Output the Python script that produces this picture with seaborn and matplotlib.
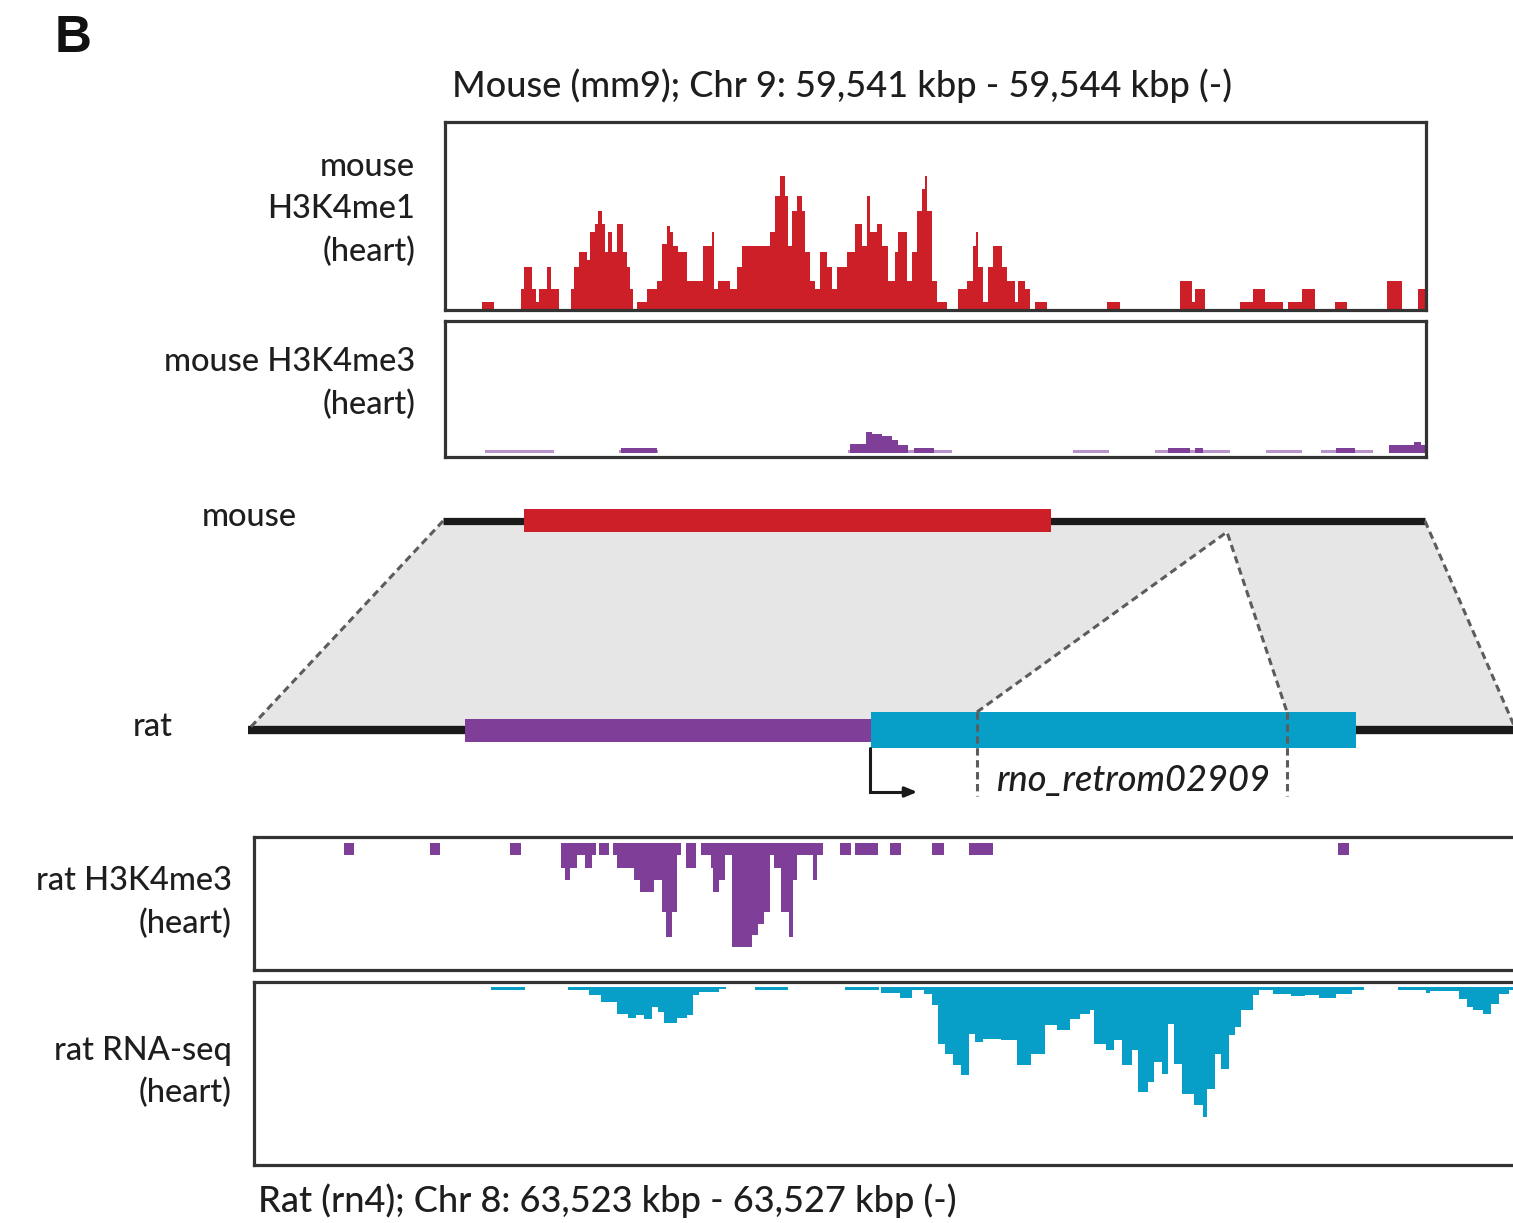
import numpy as np
import pandas as pd
import matplotlib
matplotlib.use("Agg")
import matplotlib.pyplot as plt
from matplotlib.patches import Polygon, Rectangle
import seaborn as sns

# ---------------- data (x in layout track units, heights in signal units) ----------------
# mouse H3K4me1 (heart): step breakpoints and heights
me1_edges = [482, 494, 521, 524, 532, 536, 539, 547, 551, 559, 571, 574, 579, 587, 590, 595, 598, 602, 605, 608,
             612, 617, 623, 627, 630, 633, 637, 647, 657, 662, 667, 670, 673, 678, 687, 703, 712, 714, 718, 730,
             737, 742, 770, 775, 780, 785, 788, 792, 797, 802, 805, 810, 815, 820, 827, 832, 837, 847, 855, 862,
             867, 870, 877, 882, 888, 895, 898, 907, 912, 917, 922, 925, 927, 932, 937, 947, 958, 967, 973, 976,
             978, 983, 988, 993, 1002, 1007, 1015, 1018, 1025, 1030, 1035, 1047, 1107, 1120, 1180, 1192, 1195,
             1205, 1240, 1253, 1265, 1283, 1288, 1302, 1315, 1335, 1347, 1387, 1402, 1418, 1427]
me1_vals = [8, 0, 21, 43, 21, 8, 21, 43, 21, 0,
            21, 43, 58, 50, 78, 86, 99, 86, 58, 78,
            58, 86, 58, 43, 21, 0, 8, 21, 29, 66,
            84, 78, 64, 58, 29, 64, 78, 21, 29, 21,
            43, 64, 78, 114, 134, 114, 64, 99, 114, 99,
            58, 29, 21, 58, 43, 21, 43, 58, 86, 64,
            114, 78, 86, 64, 29, 58, 78, 29, 58, 99,
            121, 134, 99, 29, 8, 0, 21, 29, 64, 78,
            43, 8, 43, 64, 43, 29, 8, 29, 21, 0,
            8, 0, 8, 0, 29, 8, 21, 0, 8, 21,
            8, 0, 8, 21, 0, 8, 0, 29, 0, 21]

# mouse H3K4me3 (heart): low-level (light) and signal (dark)
me3m_low_edges = [485, 554, 619, 658, 848, 952, 1073, 1109, 1155, 1230, 1266, 1302, 1321, 1373, 1389, 1430]
me3m_low_vals = [3.5, 0, 3.5, 0, 3.5, 0, 3.5, 0, 3.5, 0, 3.5, 0, 3.5, 0, 3.5]
me3m_edges = [621, 657, 850, 866, 872, 882, 892, 898, 908, 914, 934, 1168, 1190, 1195, 1203, 1336, 1355,
              1389, 1414, 1421, 1430]
me3m_vals = [5, 0, 9, 21, 19, 17, 13, 8, 0, 5, 0, 5, 0, 5, 0, 5, 0, 8, 11, 8]

# rat H3K4me3 (heart)
me3r_edges = [344, 354, 430, 440, 510, 521, 561, 565, 570, 577, 585, 592, 596, 599, 609, 613, 617, 634, 640, 654,
              662, 666, 672, 677, 681, 686, 696, 701, 711, 713, 719, 725, 732, 752, 758, 764, 770, 774, 781, 789,
              793, 797, 813, 817, 823, 840, 851, 855, 878, 890, 901, 932, 944, 969, 993, 1338, 1349]
me3r_vals = [12, 0, 12, 0, 12, 0, 25, 37, 25, 12,
             25, 12, 0, 12, 0, 12, 25, 37, 49, 37,
             69, 94, 69, 12, 0, 25, 0, 12, 25, 49,
             37, 12, 104, 92, 81, 69, 12, 25, 69, 94,
             37, 12, 37, 12, 0, 12, 0, 12, 0, 12,
             0, 12, 0, 12, 0, 12]

# rat RNA-seq (heart)
rna_edges = [491, 525, 568, 589, 601, 617, 628, 636, 644, 652, 658, 664, 677, 687, 693, 699, 719, 726, 755, 788,
             845, 879, 881, 900, 912, 924, 932, 938, 945, 953, 961, 969, 975, 983, 1001, 1017, 1031, 1045, 1057,
             1070, 1080, 1090, 1094, 1106, 1114, 1122, 1132, 1138, 1148, 1154, 1162, 1168, 1174, 1182, 1194, 1203,
             1207, 1215, 1221, 1229, 1235, 1241, 1253, 1259, 1273, 1291, 1305, 1319, 1336, 1352, 1364, 1398, 1426,
             1430, 1459, 1467, 1473, 1483, 1491, 1499, 1509, 1520]
rna_vals = [3, 0, 3, 8, 15, 27, 31, 28, 32, 20,
            25, 36, 31, 28, 8, 5, 2, 0, 3, 0,
            3, 0, 6, 11, 3, 7, 18, 57, 67, 78,
            88, 47, 55, 52, 53, 78, 67, 38, 43, 32,
            27, 23, 57, 63, 53, 78, 63, 105, 95, 75,
            87, 37, 77, 107, 118, 130, 102, 67, 82, 48,
            40, 23, 8, 3, 7, 9, 8, 11, 7, 3,
            0, 3, 6, 4, 12, 20, 23, 27, 17, 7,
            3]

# synteny diagram (layout units)
mouse_locus = [443, 1425]
mouse_enhancer = [524, 1051]
rat_locus = [248, 1516]
rat_upstream = [465, 871]
rat_retro = [871, 1356]
insertion_mouse = 1227
insertion_rat = [977, 1287]
tss_rat = 870

title_top = "Mouse (mm9); Chr 9: 59,541 kbp - 59,544 kbp (-)"
title_bottom = "Rat (rn4); Chr 8: 63,523 kbp - 63,527 kbp (-)"
retro_name = "rno_retrom02909"

# ---------------- styling ----------------
W, H = 1513, 1223
RED = "#cc1f27"
PURPLE = "#7f3f98"
PURPLE_LIGHT = "#b993cb"
CYAN = "#079fc8"
GRAY = "#e6e6e6"
DASH = "#5c5c5c"
FRAME = "#333333"
TXT = "#1e1e1e"

sns.set_theme(style="white")
plt.rcParams["font.family"] = ["Lato", "DejaVu Sans"]

fig = plt.figure(figsize=(W / 100, H / 100), dpi=100)
fig.patch.set_facecolor("white")

# overlay axes in layout units (for diagram and labels)
ov = fig.add_axes([0, 0, 1, 1], zorder=0)
ov.set_xlim(0, W)
ov.set_ylim(H, 0)
ov.axis("off")
ov.patch.set_visible(False)


def px_axes(x0, y0, x1, y1):
    ax = fig.add_axes([x0 / W, 1 - y1 / H, (x1 - x0) / W, (y1 - y0) / H], zorder=2)
    return ax


def draw_track(ax, edges, vals, color):
    edges = [float(e) for e in edges]
    vals = [float(v) for v in vals]
    mids = [(a + b) / 2 for a, b in zip(edges[:-1], edges[1:])]
    df = pd.DataFrame({"pos": mids, "signal": vals})
    sns.histplot(data=df, x="pos", weights="signal", bins=edges, element="step", fill=True,
                 color=color, alpha=1, linewidth=0, ax=ax)


def style_frame(ax, xlim, ylim):
    ax.set_xlim(*xlim)
    ax.set_ylim(*ylim)
    ax.set_xticks([])
    ax.set_yticks([])
    ax.set_xlabel("")
    ax.set_ylabel("")
    for s in ax.spines.values():
        s.set_visible(True)
        s.set_color(FRAME)
        s.set_linewidth(2.3)


# mouse H3K4me1
ax1 = px_axes(445, 122, 1426, 310)
draw_track(ax1, me1_edges, me1_vals, RED)
style_frame(ax1, (445, 1426), (0, 188))

# mouse H3K4me3
ax2 = px_axes(445, 321, 1426, 457)
draw_track(ax2, me3m_low_edges, me3m_low_vals, PURPLE_LIGHT)
draw_track(ax2, me3m_edges, me3m_vals, PURPLE)
style_frame(ax2, (445, 1426), (-4, 132))

# rat H3K4me3 (hanging from the top)
ax3 = px_axes(254, 837, 1522, 970)
draw_track(ax3, me3r_edges, me3r_vals, PURPLE)
style_frame(ax3, (254, 1522), (127, -6))

# rat RNA-seq (hanging from the top)
ax4 = px_axes(254, 982, 1522, 1165)
draw_track(ax4, rna_edges, rna_vals, CYAN)
style_frame(ax4, (254, 1522), (178, -5))

# ---------------- synteny diagram ----------------
my, ry = 521, 730
dash_kw = dict(color=DASH, lw=2.2, linestyle=(0, (2.4, 1.5)), zorder=6, solid_capstyle="butt")

ov.add_patch(Polygon([(mouse_locus[0], my), (mouse_locus[1], my), (rat_locus[1], ry), (rat_locus[0], ry)],
                     closed=True, facecolor=GRAY, edgecolor="none", zorder=1))
ov.add_patch(Polygon([(insertion_mouse, my + 11), (insertion_rat[0], 712), (insertion_rat[1], 712)],
                     closed=True, facecolor="white", edgecolor="none", zorder=2))

ov.plot(mouse_locus, [my, my], color="#1a1a1a", lw=5.2, solid_capstyle="butt", zorder=3)
ov.plot(rat_locus, [ry, ry], color="#1a1a1a", lw=6, solid_capstyle="butt", zorder=3)
ov.add_patch(Rectangle((mouse_enhancer[0], my - 12), mouse_enhancer[1] - mouse_enhancer[0], 23,
                       facecolor=RED, edgecolor="none", zorder=4))
ov.add_patch(Rectangle((rat_upstream[0], ry - 11), rat_upstream[1] - rat_upstream[0], 23,
                       facecolor=PURPLE, edgecolor="none", zorder=4))
ov.add_patch(Rectangle((rat_retro[0], ry - 18), rat_retro[1] - rat_retro[0], 36,
                       facecolor=CYAN, edgecolor="none", zorder=4))

ov.plot([mouse_locus[0], rat_locus[0]], [my, ry], **dash_kw)
ov.plot([mouse_locus[1], rat_locus[1]], [my, ry], **dash_kw)
ov.plot([insertion_rat[0], insertion_mouse, insertion_rat[1]], [712, my + 11, 712], **dash_kw)
for xv in insertion_rat:
    ov.plot([xv, xv], [712, 796], **dash_kw)

# TSS arrow
ov.plot([tss_rat, tss_rat, tss_rat + 36], [ry + 18, 792, 792], color="#1a1a1a", lw=2.2, zorder=5,
        solid_joinstyle="miter")
ov.annotate("", xy=(tss_rat + 50, 792), xytext=(tss_rat + 30, 792),
            arrowprops=dict(arrowstyle="-|>,head_length=0.6,head_width=0.25", color="#1a1a1a", lw=2.2),
            zorder=5)

ov.text(996, 780, retro_name, fontsize=26, style="italic", fontweight="medium", ha="left", va="center",
        color=TXT, zorder=7)

# ---------------- labels ----------------
lab_kw = dict(fontsize=23.5, color=TXT, va="center", fontweight="medium")
ttl_kw = dict(fontsize=26, color=TXT, va="center", fontweight="medium")
ov.text(55, 38, "B", fontsize=37, fontweight="bold", family=["Liberation Sans", "DejaVu Sans"],
        ha="left", va="center", color="#111111")
ov.text(452, 86, title_top, ha="left", **ttl_kw)
ov.text(258, 1201, title_bottom, ha="left", **ttl_kw)

for txt, yy in [("mouse", 167), ("H3K4me1", 209), ("(heart)", 252), ("mouse H3K4me3", 362), ("(heart)", 405)]:
    ov.text(415, yy, txt, ha="right", **lab_kw)
for txt, yy in [("rat H3K4me3", 881), ("(heart)", 924), ("rat RNA-seq", 1051), ("(heart)", 1093)]:
    ov.text(232, yy, txt, ha="right", **lab_kw)
ov.text(249, 517, "mouse", ha="center", **lab_kw)
ov.text(153, 727, "rat", ha="center", **lab_kw)

fig.savefig("out.png", dpi=100, facecolor="white")
